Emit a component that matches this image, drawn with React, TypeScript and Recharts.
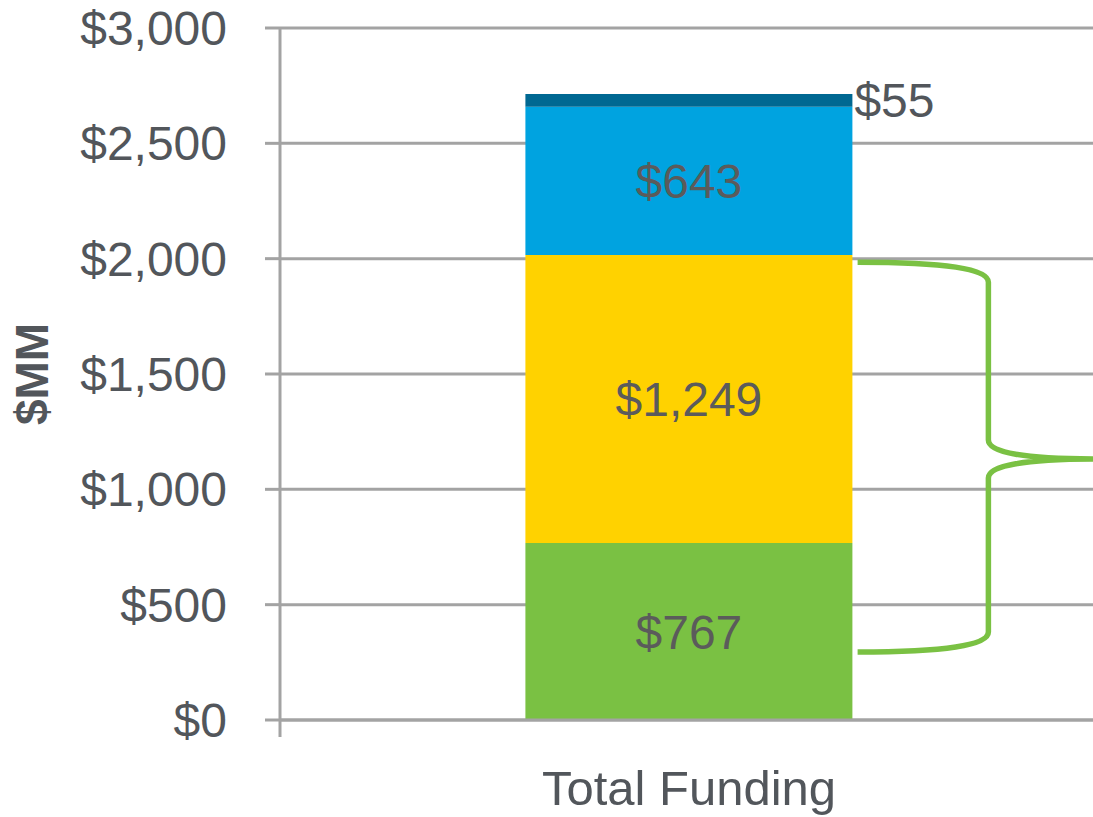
import React from 'react'
import { BarChart, Bar, XAxis, YAxis, CartesianGrid, LabelList, ReferenceArea } from 'recharts'

const categories = ['Total Funding']
const greenValues = [767]
const yellowValues = [1249]
const blueValues = [643]
const navyValues = [55]
const yTicks = [0, 500, 1000, 1500, 2000, 2500, 3000]
// bracket on the right ($MM)
const braceRange = [295, 1985]

const data = categories.map((name, i) => ({
  name,
  green: greenValues[i],
  yellow: yellowValues[i],
  blue: blueValues[i],
  navy: navyValues[i]
}))

const FONT = '"Liberation Sans", Arial, sans-serif'
const AXIS = '#a3a3a3'
const TEXT = '#52565b'
const money = (v: any) => `$${Number(v).toLocaleString('en-US')}`

const Brace = (props: any) => {
  const { x, y, width, height } = props
  const x0 = x + width * 0.7 + 5
  const xv = x + width * 0.866
  const xt = x + width
  const yT = y
  const yB = y + height
  const yM = (yT + yB) / 2 + 2
  const d = [
    `M${x0},${yT}`,
    `Q${xv},${yT} ${xv},${yT + 20}`,
    `L${xv},${yM - 19}`,
    `Q${xv},${yM} ${xt},${yM}`,
    `Q${xv},${yM} ${xv},${yM + 19}`,
    `L${xv},${yB - 20}`,
    `Q${xv},${yB} ${x0},${yB}`
  ].join(' ')
  return <path d={d} fill="none" stroke="#7ac143" strokeWidth={5.5} />
}

const EdgeTick = (props: any) => {
  const { x, y, height } = props
  return <line x1={x} y1={y + height} x2={x} y2={y + height + 17} stroke={AXIS} strokeWidth={3} />
}

export default function App() {
  return (
    <div style={{ position: 'absolute', left: 0, top: 0, width: 1093, height: 817, overflow: 'hidden', background: '#fff' }}>
      <BarChart
        width={1100}
        height={817}
        data={data}
        margin={{ top: 28, right: 2, bottom: 0, left: 0 }}
        barCategoryGap="30%"
      >
        <CartesianGrid vertical={false} stroke={AXIS} strokeWidth={3} />
        <XAxis
          dataKey="name"
          tickLine={false}
          axisLine={{ stroke: AXIS, strokeWidth: 3 }}
          tickSize={0}
          tickMargin={50}
          height={97}
          tick={{ fontSize: 49, fill: TEXT, fontFamily: FONT }}
        />
        <YAxis
          width={280}
          domain={[0, 3000]}
          ticks={yTicks}
          interval={0}
          tickSize={15}
          tickMargin={38}
          tickFormatter={money}
          axisLine={{ stroke: AXIS, strokeWidth: 3 }}
          tickLine={{ stroke: AXIS, strokeWidth: 3 }}
          tick={{ fontSize: 48, fill: TEXT, fontFamily: FONT }}
          label={{
            value: '$MM',
            angle: -90,
            position: 'insideLeft',
            offset: 32,
            style: { textAnchor: 'middle', fontSize: 46, fontWeight: 'bold', fill: TEXT, fontFamily: FONT }
          }}
        />
        <Bar dataKey="green" stackId="a" fill="#7ac143" isAnimationActive={false}>
          <LabelList dataKey="green" position="center" formatter={money} fill="#5b5b5b" fontSize={48} fontFamily={FONT} />
        </Bar>
        <Bar dataKey="yellow" stackId="a" fill="#ffd200" isAnimationActive={false}>
          <LabelList dataKey="yellow" position="center" formatter={money} fill="#5b5b5b" fontSize={48} fontFamily={FONT} />
        </Bar>
        <Bar dataKey="blue" stackId="a" fill="#00a3e0" isAnimationActive={false}>
          <LabelList dataKey="blue" position="center" formatter={money} fill="#5b5b5b" fontSize={48} fontFamily={FONT} />
        </Bar>
        <Bar dataKey="navy" stackId="a" fill="#006892" isAnimationActive={false}>
          <LabelList dataKey="navy" position="right" offset={2} formatter={money} fill={TEXT} fontSize={48} fontFamily={FONT} />
        </Bar>
        <ReferenceArea y1={braceRange[0]} y2={braceRange[1]} ifOverflow="visible" shape={<Brace />} />
        <ReferenceArea y1={0} y2={3000} ifOverflow="visible" shape={<EdgeTick />} />
      </BarChart>
    </div>
  )
}
